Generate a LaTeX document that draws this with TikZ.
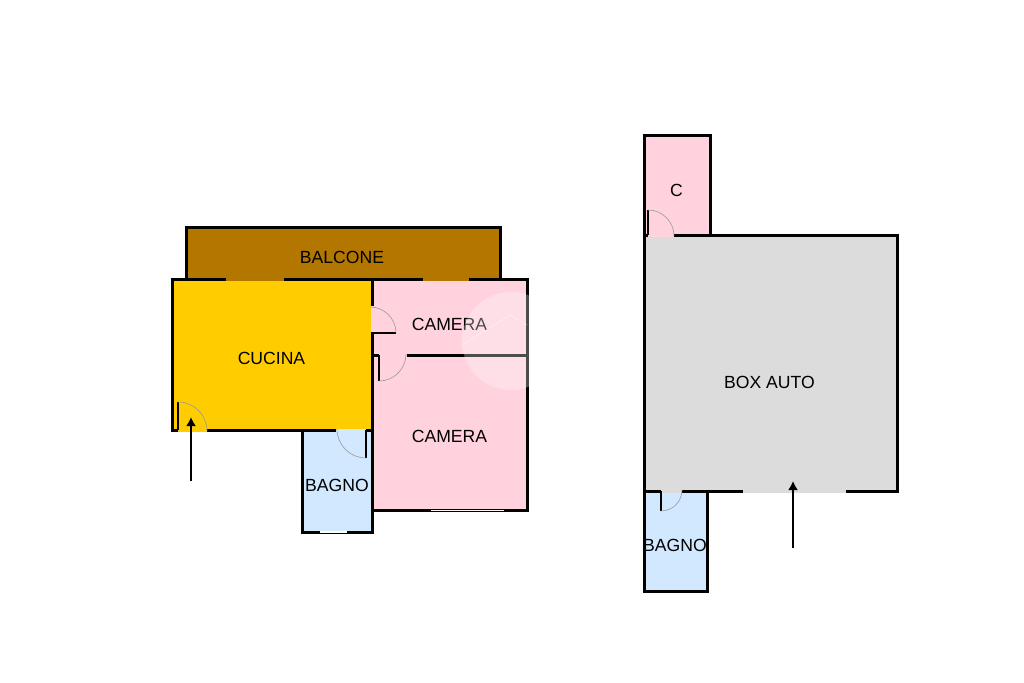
\documentclass[tikz,border=0pt]{standalone}
\usepackage{fontspec}
\setmainfont{Liberation Sans}
\usetikzlibrary{arrows.meta}
\definecolor{roomyellow}{HTML}{FFCC00}
\definecolor{roompink}{HTML}{FFD2DE}
\definecolor{roomblue}{HTML}{D2E8FF}
\definecolor{roomgray}{HTML}{DCDCDC}
\definecolor{roombrown}{HTML}{B37700}
\tikzset{
  wall/.style={draw=black,line width=3pt,line cap=butt,line join=miter},
  leaf/.style={draw=black,line width=1.2pt},
  swing/.style={draw=black!40,line width=.6pt},
  pane/.style={draw=white,line width=1.2pt},
  roomlabel/.style={inner sep=0pt,font=\fontsize{17.6}{19}\selectfont},
  entry/.style={draw=black,line width=1.8pt,-{Latex[length=9pt,width=10pt]}},
}
\begin{document}
\begin{tikzpicture}[x=1pt,y=-1pt]
	\useasboundingbox (0,0) rectangle (1024,682);
	% room floors
	\fill[roompink] (371,279) rectangle (527,510);
	\fill[roomyellow] (172,279) rectangle (371,432);
	\fill[roombrown] (186,227) rectangle (500,281);
	\fill[roomblue] (302,429) rectangle (371,532);
	\fill[roompink] (644,135) rectangle (710,236.5);
	\fill[roomgray] (644,236.5) rectangle (897,493);
	\fill[roomblue] (644,493) rectangle (707,591);
	% left flat, walls
	\draw[wall] (186,279) -- (186,227) -- (500,227) -- (500,279);
	\draw[wall] (226,279) -| (172,430) -- (178,430);
	\draw[wall] (284,279) -- (423,279);
	\draw[wall] (469,279) -| (527,510) -- (372,510);
	\draw[wall] (372,279) -- (372,306);
	\draw[wall] (372,333) -- (372,532) -- (302,532) -- (302,430);
	\draw[wall] (207,430) -- (336,430);
	\draw[wall] (366,430) -- (372,430);
	\draw[wall] (372,355) -- (379,355);
	\draw[wall] (407,355) -- (527,355);
	% right flat, walls
	\draw[wall] (648,235) -- (644,235) -- (644,135) -- (710,135) -- (710,235);
	\draw[wall] (674,235) -- (897,235) -- (897,491) -- (846,491);
	\draw[wall] (644,235) -- (644,591) -- (707,591) -- (707,491);
	\draw[wall] (644,491) -- (661,491);
	\draw[wall] (682,491) -- (743,491);
	% doors
	\draw[leaf] (178,430) -- (178,402);
	\draw[swing] (178,402) arc[start angle=-90,end angle=0,radius=29];
	\draw[leaf] (366,430) -- (366,458);
	\draw[swing] (366,458) arc[start angle=90,end angle=180,radius=29];
	\draw[leaf] (371,333) -- (396,333);
	\draw[swing] (396,333) arc[start angle=0,end angle=-90,radius=26];
	\draw[leaf] (379,355) -- (379,381);
	\draw[swing] (379,381) arc[start angle=90,end angle=0,radius=27];
	\draw[leaf] (648,235) -- (648,210);
	\draw[swing] (648,210) arc[start angle=-90,end angle=0,radius=26];
	\draw[leaf] (661,491) -- (661,511);
	\draw[swing] (661,511) arc[start angle=90,end angle=0,radius=21];
	% windows
	\draw[pane] (431,510.5) -- (504,510.5);
	\draw[pane] (320,532) -- (347,532);
	% labels
	\node[roomlabel] (balcone) at (342,257) {BALCONE};
	\node[roomlabel] (cucina) at (271.5,358.5) {CUCINA};
	\node[roomlabel] (cameraA) at (449.5,324.5) {CAMERA};
	\node[roomlabel] (cameraB) at (449.5,436.5) {CAMERA};
	\node[roomlabel] (bagnoA) at (337,485.5) {BAGNO};
	\node[roomlabel] (ripost) at (676.5,190) {C};
	\node[roomlabel] (box) at (769.5,382) {BOX AUTO};
	\node[roomlabel] (bagnoB) at (675,545.5) {BAGNO};
	% entrances
	\coordinate (entryA) at (191,481);
	\coordinate (entryAend) at (191,417);
	\coordinate (entryB) at (793,548);
	\coordinate (entryBend) at (793,481);
	\draw[entry] (entryA) -- (entryAend);
	\draw[entry] (entryB) -- (entryBend);
	% watermark
	\fill[white,opacity=.3] (511,341) circle[radius=49];
	\draw[white,opacity=.3,line width=1pt] (462,345) -- (510,315) -- (527,325);
\end{tikzpicture}
\end{document}
